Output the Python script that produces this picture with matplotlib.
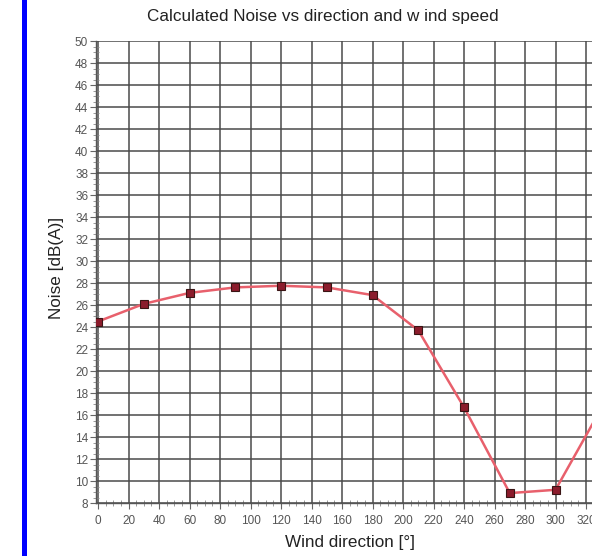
import matplotlib
matplotlib.use("Agg")
import matplotlib.pyplot as plt
from matplotlib.patches import Rectangle
from matplotlib.ticker import MultipleLocator

plt.rcParams['font.family'] = ['Liberation Sans', 'DejaVu Sans']

# Wind direction [deg] and calculated noise [dB(A)]
directions = [0, 30, 60, 90, 120, 150, 180, 210, 240, 270, 300, 330]
noise = [24.5, 26.1, 27.1, 27.6, 27.75, 27.6, 26.9, 23.7, 16.7, 8.9, 9.2, 16.6]

x_ticks = list(range(0, 361, 20))
y_ticks = list(range(8, 51, 2))

W, H = 592, 556
fig = plt.figure(figsize=(W / 100, H / 100), dpi=100)
fig.patch.set_facecolor('white')

# blue bar on the left edge of the screenshot
fig.add_artist(Rectangle((22 / W, 0), 5 / W, 1, transform=fig.transFigure,
                         facecolor='#0000ff', edgecolor='none'))

# axes run past the right edge (the screenshot is cropped there)
left, right = 96.5, 647.0
top, bottom = 41.0, 503.0
ax = fig.add_axes([left / W, 1 - bottom / H, (right - left) / W, (bottom - top) / H])
ax.set_xlim(-1, 360)
ax.set_ylim(8, 50)

ax.set_xticks(x_ticks)
ax.set_yticks(y_ticks)
ax.xaxis.set_minor_locator(MultipleLocator(5))
ax.yaxis.set_minor_locator(MultipleLocator(0.5))

ax.grid(True, which='major', color='#4a4a4a', linewidth=1.1)
ax.set_axisbelow(True)

for s in ['top', 'right']:
    ax.spines[s].set_visible(False)
for s in ['left', 'bottom']:
    ax.spines[s].set_color('#555555')
    ax.spines[s].set_linewidth(1.0)

ax.tick_params(which='major', direction='out', length=4, width=0.8,
               colors='#666666', labelsize=8.5, labelcolor='#555555')
ax.tick_params(axis='x', which='major', pad=5)
ax.tick_params(axis='y', which='major', pad=2)
ax.tick_params(which='minor', direction='inout', length=4, width=0.6,
               colors='#888888')

ax.plot(directions, noise, color='#e8606c', linewidth=1.8, zorder=3)
ax.plot(directions, noise, linestyle='none', marker='s', markersize=6,
        markerfacecolor='#8b1c2c', markeredgecolor='#3a1414',
        markeredgewidth=0.8, zorder=4)

fig.text(323 / W, 1 - 17 / H, 'Calculated Noise vs direction and w ind speed',
         ha='center', va='center', fontsize=12.3, color='#222222')
fig.text(350 / W, 1 - 542 / H, 'Wind direction [°]',
         ha='center', va='center', fontsize=12.3, color='#222222')
fig.text(56 / W, 1 - 268 / H, 'Noise [dB(A)]', rotation=90,
         ha='center', va='center', fontsize=12.3, color='#222222')

fig.savefig('out.png', dpi=100)
